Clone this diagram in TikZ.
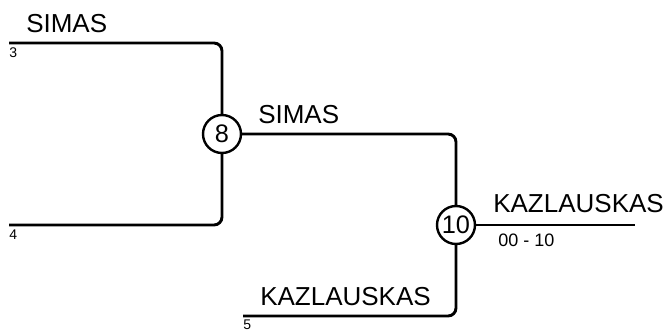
\documentclass[tikz,border=0pt]{standalone}
\usepackage{fontspec}
\setmainfont{Liberation Sans}
\usetikzlibrary{positioning,calc}

\tikzset{
    bracket/.style={line width=2.2pt, rounded corners=6pt},
    match/.style={circle, draw, line width=1.8pt, inner sep=0pt, minimum size=28.5pt, font=\fontsize{19}{20}\selectfont},
    player/.style={anchor=base west, inner sep=0pt, font=\fontsize{19.5}{22}\selectfont},
    seed/.style={anchor=base west, inner sep=0pt, font=\fontsize{10.5}{12}\selectfont},
    score/.style={anchor=base west, inner sep=0pt, font=\fontsize{13.5}{15}\selectfont}
}

\begin{document}
\begin{tikzpicture}[x=0.75pt, y=-0.75pt]
    \useasboundingbox (0,0) rectangle (672,329);

    \node [match] (M8) at (222,134) {8};
    \node [match] (M10) at (456,225) {10};

    \coordinate (Seed3) at (9,43);
    \coordinate (Seed4) at (9,225);
    \coordinate (Seed5) at (243,316);
    \coordinate (Win) at (635,225);

    \draw [bracket] (Seed3) -| (M8);
    \draw [bracket] (Seed4) -| (M8);
    \draw [bracket] (M8) -| (M10);
    \draw [bracket] (Seed5) -| (M10);
    \draw [bracket] (M10) -- (Win);

    \node [player] (P3) at (26,32) {SIMAS};
    \node [seed] (S3) at (9,57) {3};
    \node [seed] (S4) at (9,239) {4};
    \node [player] (P8) at (258,123) {SIMAS};
    \node [player] (P5) at (260,305) {KAZLAUSKAS};
    \node [seed] (S5) at (243,329) {5};
    \node [player] (P10) at (493,212) {KAZLAUSKAS};
    \node [score] (R10) at (498,246) {00 - 10};
\end{tikzpicture}
\end{document}
